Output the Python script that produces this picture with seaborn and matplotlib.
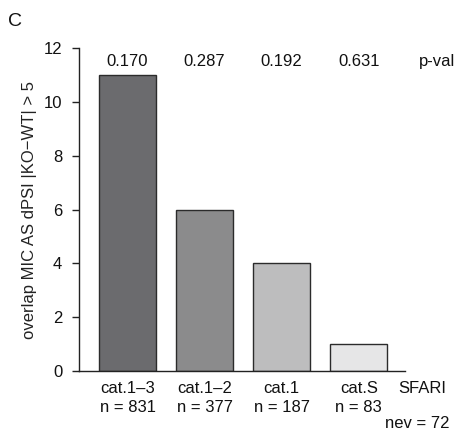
import matplotlib
matplotlib.use("Agg")
import matplotlib.pyplot as plt
import seaborn as sns
import pandas as pd

categories = ["cat.1–3", "cat.1–2", "cat.1", "cat.S"]
n_labels = ["n = 831", "n = 377", "n = 187", "n = 83"]
values = [11, 6, 4, 1]
pvals = ["0.170", "0.287", "0.192", "0.631"]
colors = ["#6b6b6e", "#8b8b8c", "#bdbdbe", "#e6e6e7"]

sns.set_theme(style="white")
plt.rcParams["font.family"] = ["Liberation Sans", "DejaVu Sans"]

df = pd.DataFrame({"cat": categories, "val": values})

fig = plt.figure(figsize=(4.54, 4.34), dpi=100)
ax = fig.add_axes([0.174, 0.145, 0.718, 0.744])
sns.barplot(data=df, x="cat", y="val", hue="cat", palette=colors, legend=False,
            width=0.74, edgecolor="#2b2b2b", linewidth=1.0, saturation=1, ax=ax)

ax.set_xlim(-0.63, 3.60)
ax.set_ylim(0, 12)
ax.set_yticks([0, 2, 4, 6, 8, 10, 12])
ax.tick_params(axis="y", length=5, width=1, pad=7, labelsize=12, color="#222222", labelcolor="#111111", left=True)
ax.set_xticks([])
ax.set_xlabel("")
ax.set_ylabel("overlap MIC AS dPSI |KO−WT| > 5", fontsize=12, color="#222222", labelpad=4.5)
for s in ["top", "right"]:
    ax.spines[s].set_visible(False)
for s in ["left", "bottom"]:
    ax.spines[s].set_color("#222222")
    ax.spines[s].set_linewidth(1.0)

for i, (c, n, p) in enumerate(zip(categories, n_labels, pvals)):
    ax.text(i, 11.52, p, ha="center", va="center", fontsize=12, color="#111111", clip_on=False)
    ax.text(i, -0.63, c, ha="center", va="center", fontsize=12, color="#111111", clip_on=False)
    ax.text(i, -1.37, n, ha="center", va="center", fontsize=12, color="#111111", clip_on=False)

ax.text(4.02, 11.52, "p-val", ha="center", va="center", fontsize=12, color="#111111", clip_on=False)
ax.text(3.82, -0.63, "SFARI", ha="center", va="center", fontsize=12, color="#111111", clip_on=False)
ax.text(3.76, -1.93, "nev = 72", ha="center", va="center", fontsize=12, color="#111111", clip_on=False)

fig.text(15 / 454, 1 - 21 / 434, "C", ha="center", va="center", fontsize=14, color="#111111")

fig.savefig("out.png", dpi=100)
